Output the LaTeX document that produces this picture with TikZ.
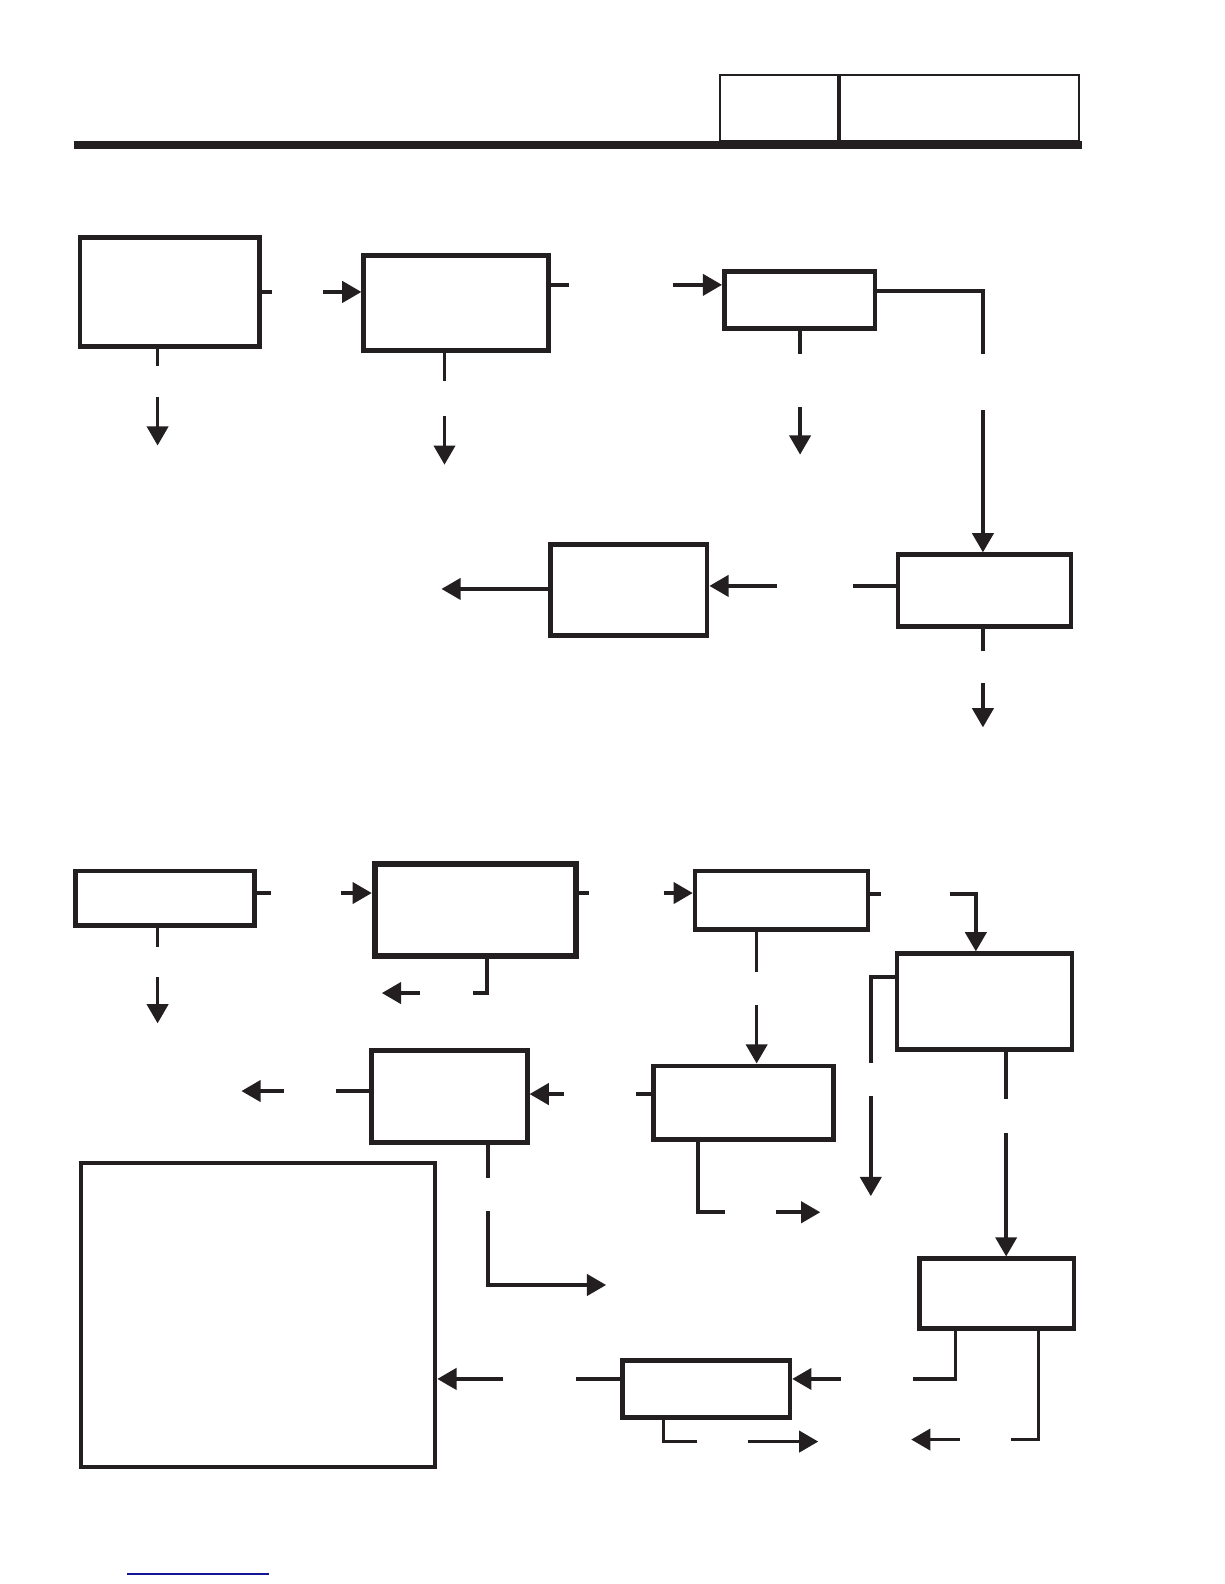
\documentclass[tikz,border=0pt]{standalone}
\usetikzlibrary{arrows.meta}
\definecolor{ink}{RGB}{35,31,32}
\definecolor{linkblue}{RGB}{20,20,150}
\tikzset{
  box/.style={draw=ink,line width=4.5pt,inner sep=0pt},
  wire/.style={draw=ink,line width=3.5pt},
  arr/.style={wire,-{Triangle[length=19pt,width=21pt]}},
}
\begin{document}
\begin{tikzpicture}[x=1pt,y=-1pt]
\useasboundingbox (0,0) rectangle (1212,1568);
% header
\node[draw=ink,line width=2pt,inner sep=0pt,minimum width=117pt,minimum height=66pt] (hdra) at (771.5,107) {};
\node[draw=ink,line width=2pt,inner sep=0pt,minimum width=238pt,minimum height=66pt] (hdrb) at (949,107) {};
\draw[ink,line width=3.5pt] (hdra.north east) -- (hdra.south east);
\path (73,143.5) coordinate (barl) (1071,143.5) coordinate (barr);
\draw[ink,line width=7pt] (barl) -- (barr);

% upper chart
\node[box,minimum width=178pt,minimum height=108pt] (b1) at (168,289) {};
\node[box,minimum width=183pt,minimum height=94pt] (b2) at (451.5,300) {};
\node[box,minimum width=149pt,minimum height=56pt] (b3) at (791.5,297) {};
\node[box,minimum width=155pt,minimum height=90pt] (b4) at (622.5,584) {};
\node[box,minimum width=171pt,minimum height=71pt] (b5) at (974.5,584.5) {};
\path
  (269,289) coordinate (b1r)
  (320,289) coordinate (b2in)
  (563,282) coordinate (b2r)
  (666,282) coordinate (b3in)
  (973,288) coordinate (b3k)
  (973,350) coordinate (b3e)
  (792,350) coordinate (b3d)
  (792,403) coordinate (b3a)
  (792,450) coordinate (b3t)
  (156,362) coordinate (b1d)
  (156,393) coordinate (b1a)
  (156,441) coordinate (b1t)
  (440,377) coordinate (b2d)
  (440,412) coordinate (b2a)
  (440,460) coordinate (b2t)
  (973,406) coordinate (b5in)
  (844,580) coordinate (b5l)
  (769,580) coordinate (b4in)
  (437,583) coordinate (b4out)
  (973,644) coordinate (b5d)
  (973,676) coordinate (b5a)
  (973,720) coordinate (b5t);
\draw[wire] (b1.east) -- (b1r);
\draw[arr] (b2in) -- (b2in -| b2.west);
\draw[wire] (b2r -| b2.east) -- (b2r);
\draw[arr] (b3in) -- (b3in -| b3.west);
\draw[wire] (b3k -| b3.east) -- (b3k) -- (b3e);
\draw[wire] (b3d |- b3.south) -- (b3d);
\draw[arr] (b3a) -- (b3t);
\draw[wire] (b1d |- b1.south) -- (b1d);
\draw[arr] (b1a) -- (b1t);
\draw[wire] (b2d |- b2.south) -- (b2d);
\draw[arr] (b2a) -- (b2t);
\draw[arr] (b5in) -- (b5in |- b5.north);
\draw[wire] (b5l -| b5.west) -- (b5l);
\draw[arr] (b4in) -- (b4in -| b4.east);
\draw[arr] (b4out -| b4.west) -- (b4out);
\draw[wire] (b5d |- b5.south) -- (b5d);
\draw[arr] (b5a) -- (b5t);

% lower chart
\node[box,minimum width=177pt,minimum height=54pt] (c1) at (163.5,889) {};
\node[box,line width=6pt,minimum width=199pt,minimum height=91pt] (c2) at (470.5,900.5) {};
\node[box,minimum width=171pt,minimum height=58pt] (c3) at (773.5,891) {};
\node[box,minimum width=173pt,minimum height=95pt] (c4) at (974.5,991.5) {};
\node[box,minimum width=178pt,minimum height=73pt] (c5) at (736,1091.5) {};
\node[box,minimum width=154pt,minimum height=91pt] (c6) at (445,1085.5) {};
\node[box,minimum width=153pt,minimum height=69pt] (c7) at (986.5,1280.5) {};
\node[box,minimum width=166pt,minimum height=56pt] (c8) at (699,1375) {};
\node[box,line width=3.8pt,minimum width=351pt,minimum height=301pt] (d) at (255.5,1301.5) {};
\path
  (268,884) coordinate (c1r)
  (338,884) coordinate (c2in)
  (583,884) coordinate (c2r)
  (482,983) coordinate (c2k)
  (468,983) coordinate (c2e)
  (416,983) coordinate (c2a)
  (378,983) coordinate (c2t)
  (156,937) coordinate (c1d)
  (156,967) coordinate (c1a)
  (156,1013) coordinate (c1t)
  (657,884) coordinate (c3in)
  (872,885) coordinate (c3r)
  (940,885) coordinate (c4a)
  (966,885) coordinate (c4k)
  (749,962) coordinate (c3d)
  (749,995) coordinate (c5in)
  (630,1083) coordinate (c5l)
  (558,1083) coordinate (c6in)
  (333,1080) coordinate (c6l)
  (281,1080) coordinate (c6a)
  (239,1080) coordinate (c6t)
  (862,967) coordinate (c4k2)
  (862,1052) coordinate (c4e)
  (862,1085) coordinate (c4a2)
  (862,1184) coordinate (c4t)
  (691,1200) coordinate (c5k)
  (718,1200) coordinate (c5e)
  (768,1200) coordinate (c5a)
  (812,1200) coordinate (c5t)
  (996,1088) coordinate (c4d)
  (996,1122) coordinate (c7in)
  (483,1166) coordinate (c6d)
  (483,1199) coordinate (c6a2)
  (600,1272) coordinate (c6t2)
  (946,1365) coordinate (c7k)
  (904,1365) coordinate (c7e)
  (832,1365) coordinate (c8in)
  (570,1365) coordinate (c8l)
  (498,1365) coordinate (din)
  (657,1427) coordinate (c8k)
  (690,1427) coordinate (c8e)
  (740,1427) coordinate (c8a)
  (810,1427) coordinate (c8t)
  (1028,1425) coordinate (c7k2)
  (1001,1425) coordinate (c7e2)
  (950,1425) coordinate (c7a)
  (902,1425) coordinate (c7t);
\draw[wire] (c1r -| c1.east) -- (c1r);
\draw[arr] (c2in) -- (c2in -| c2.west);
\draw[wire] (c2r -| c2.east) -- (c2r);
\draw[wire] (c2k |- c2.south) -- (c2k) -- (c2e);
\draw[arr] (c2a) -- (c2t);
\draw[wire] (c1d |- c1.south) -- (c1d);
\draw[arr] (c1a) -- (c1t);
\draw[arr] (c3in) -- (c3in -| c3.west);
\draw[wire] (c3r -| c3.east) -- (c3r);
\draw[arr] (c4a) -- (c4k) -- (c4k |- c4.north);
\draw[wire] (c3d |- c3.south) -- (c3d);
\draw[arr] (c5in) -- (c5in |- c5.north);
\draw[wire] (c5l -| c5.west) -- (c5l);
\draw[arr] (c6in) -- (c6in -| c6.east);
\draw[wire] (c6l -| c6.west) -- (c6l);
\draw[arr] (c6a) -- (c6t);
\draw[wire] (c4k2 -| c4.west) -- (c4k2) -- (c4e);
\draw[arr] (c4a2) -- (c4t);
\draw[wire] (c5k |- c5.south) -- (c5k) -- (c5e);
\draw[arr] (c5a) -- (c5t);
\draw[wire] (c4d |- c4.south) -- (c4d);
\draw[arr] (c7in) -- (c7in |- c7.north);
\draw[wire] (c6d |- c6.south) -- (c6d);
\draw[arr] (c6a2) |- (c6t2);
\draw[wire] (c7k |- c7.south) -- (c7k) -- (c7e);
\draw[arr] (c8in) -- (c8in -| c8.east);
\draw[wire] (c8l -| c8.west) -- (c8l);
\draw[arr] (din) -- (din -| d.east);
\draw[wire] (c8k |- c8.south) -- (c8k) -- (c8e);
\draw[arr] (c8a) -- (c8t);
\draw[wire] (c7k2 |- c7.south) -- (c7k2) -- (c7e2);
\draw[arr] (c7a) -- (c7t);

% link rule
\path (126,1558) coordinate (lnkl) (266,1558) coordinate (lnkr);
\draw[linkblue,line width=1.3pt] (lnkl) -- (lnkr);
\end{tikzpicture}
\end{document}
